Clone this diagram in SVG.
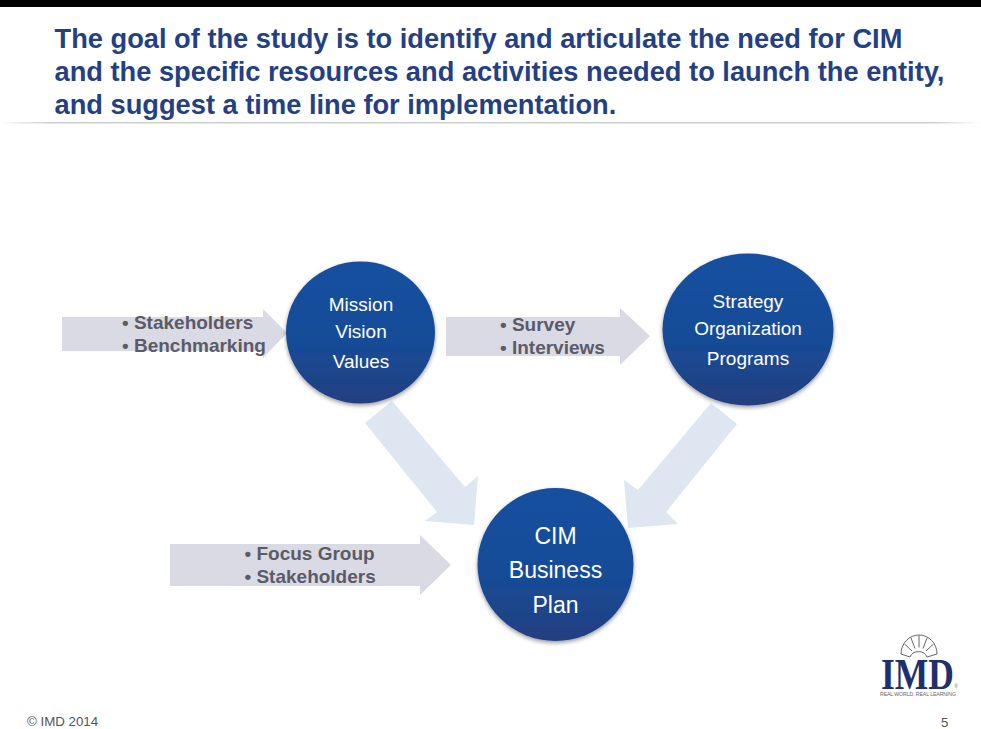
<svg xmlns="http://www.w3.org/2000/svg" width="981" height="729" viewBox="0 0 981 729">
<defs>
<linearGradient id="ball" x1="0" y1="0" x2="0" y2="1"><stop offset="0" stop-color="#14509f"/><stop offset="0.55" stop-color="#174c98"/><stop offset="1" stop-color="#233f7f"/></linearGradient>
<linearGradient id="rule" x1="0" y1="0" x2="1" y2="0"><stop offset="0" stop-color="#cfcfcf" stop-opacity="0"/><stop offset="0.05" stop-color="#cfcfcf"/><stop offset="0.95" stop-color="#cfcfcf"/><stop offset="1" stop-color="#cfcfcf" stop-opacity="0"/></linearGradient>
<filter id="sh" x="-15%" y="-15%" width="130%" height="130%"><feDropShadow dx="0" dy="2" stdDeviation="2" flood-color="#000" flood-opacity="0.4"/></filter>
</defs>
<style>
text{font-family:"Liberation Sans",Arial,sans-serif}
.title{font-size:27.25px;font-weight:700;fill:#243f82}
.lab{font-size:19px;font-weight:700;fill:#5b5b68}
.n{fill:url(#ball);filter:url(#sh)}
.t{fill:#fff;text-anchor:middle;font-size:19px}
.big{font-size:23px}
.side{fill:#dadae5}
.diag{fill:#dde6f1}
.foot{font-size:13.3px;fill:#555}
.fan{fill:#fff;stroke:#666;stroke-width:1}
</style>
<rect width="981" height="729" fill="#fff"/>
<rect width="981" height="7" fill="#000"/>
<rect x="0" y="122" width="981" height="1.500" fill="url(#rule)"/>
<g id="title">
<text class="title" x="54.500" y="48">The goal of the study is to identify and articulate the need for CIM</text>
<text class="title" x="54.500" y="81">and the specific resources and activities needed to launch the entity,</text>
<text class="title" x="54.500" y="114">and suggest a time line for implementation.</text>
</g>
<g id="connectors">
<path class="side" d="M62 317H263V309L287 333L263 358V351H62Z"/>
<path class="side" d="M446 317H620V308L650 336L620 365V356H446Z"/>
<path class="side" d="M170 544H420V535L451 565L420 595V586H170Z"/>
<path class="diag" d="M392 401L465 487L478 476L474 525L425 521L437 512L365 423Z"/>
<path class="diag" d="M711 403L737 424L666 512L678 524L628 528L624 480L638 490Z"/>
</g>
<g id="labels">
<text class="lab" x="122" y="329">• Stakeholders</text>
<text class="lab" x="122" y="352">• Benchmarking</text>
<text class="lab" x="500" y="331">• Survey</text>
<text class="lab" x="500" y="353.500">• Interviews</text>
<text class="lab" x="244.500" y="560">• Focus Group</text>
<text class="lab" x="244.500" y="583">• Stakeholders</text>
</g>
<g id="node-mission">
<ellipse class="n" cx="360.500" cy="332.500" rx="74.500" ry="71"/>
<text class="t" x="361" y="311">Mission</text><text class="t" x="361" y="338">Vision</text><text class="t" x="361" y="368">Values</text>
</g>
<g id="node-strategy">
<ellipse class="n" cx="748" cy="329.500" rx="85.500" ry="76"/>
<text class="t" x="748" y="308">Strategy</text><text class="t" x="748" y="335">Organization</text><text class="t" x="748" y="365">Programs</text>
</g>
<g id="node-cim">
<ellipse class="n" cx="555.500" cy="564.500" rx="78" ry="76.500"/>
<text class="t big" x="555.500" y="544">CIM</text><text class="t big" x="555.500" y="578">Business</text><text class="t big" x="555.500" y="613">Plan</text>
</g>
<g id="logo">
<path class="fan" d="M901 654A18 19 0 0 1 937 654L927 657A9 8 0 0 0 910 657Z"/>
<path d="M904.500 644L912 651M911 638L915 648.500M919 635.500V647.500M927 638L923 648.500M933.500 644L926 651" fill="none" stroke="#666" stroke-width="1"/>
<text x="881" y="689" textLength="73" lengthAdjust="spacingAndGlyphs" style="font-family:'Liberation Serif',serif;font-weight:700;font-size:45px;fill:#1f2f6e">IMD</text>
<text x="954.500" y="688" font-size="4.500" fill="#666">®</text>
<text x="918" y="696" text-anchor="middle" font-size="5.200" fill="#666" textLength="76">REAL WORLD. REAL LEARNING</text>
</g>
<g id="footer">
<text class="foot" x="27" y="726">© IMD 2014</text>
<text class="foot" x="941" y="727">5</text>
</g>
</svg>
